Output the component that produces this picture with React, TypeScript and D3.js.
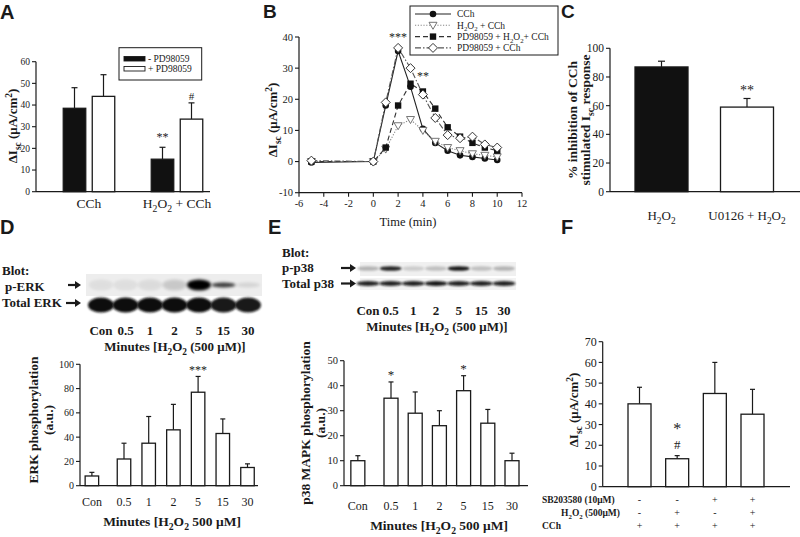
import React from "react";
import * as d3 from "d3";

const SERIF = "'Liberation Serif','Times New Roman',serif";
const SANS = "'Liberation Sans',Arial,sans-serif";
const INK = "#1a1a1a";

// ---------- Panel A
const aGroups = ["CCh", "H_{2}O_{2} + CCh"];
const aLegend = ["- PD98059", "+ PD98059"];
const aMinusPD = [38.5, 15];
const aMinusPDErr = [9.5, 5.5];
const aPlusPD = [44, 33.5];
const aPlusPDErr = [10, 7.5];
const aYTicks = [0, 10, 20, 30, 40, 50, 60];

// ---------- Panel B
const bTimes = [-5, 0, 1, 2, 3, 4, 5, 6, 7, 8, 9, 10];
const bCCh = [-0.3, 0, 18, 35.5, 24, 10.5, 6, 3.5, 2, 1.5, 1, 0.5];
const bH2O2CCh = [0, 0, 4, 11.5, 13.5, 10, 6.5, 4.5, 3.5, 2.5, 2, 1.5];
const bPDH2O2CCh = [0, 0, 4.5, 18, 25, 22.5, 17, 11, 8, 6, 4.5, 3.5];
const bPDCCh = [0.3, 0, 19, 36.5, 30, 21.5, 14, 8.5, 7.5, 8, 5.5, 4.5];
const bLegend = ["CCh", "H_{2}O_{2} + CCh", "PD98059 + H_{2}O_{2}+ CCh", "PD98059 + CCh"];
const bXTicks = [-6, -4, -2, 0, 2, 4, 6, 8, 10, 12];
const bYTicks = [-10, 0, 10, 20, 30, 40];

// ---------- Panel C
const cCats = ["H_{2}O_{2}", "U0126 + H_{2}O_{2}"];
const cValues = [87, 59];
const cErr = [4, 6];
const cYTicks = [0, 20, 40, 60, 80, 100];

// ---------- Panel D
const dCats = ["Con", "0.5", "1", "2", "5", "15", "30"];
const dValues = [8, 22, 35, 46, 77, 43, 15];
const dErr = [3, 13, 22, 21, 13, 12, 3];
const dYTicks = [0, 20, 40, 60, 80, 100];
const dPhosphoBand = [0.06, 0.06, 0.07, 0.15, 1.0, 0.75, 0.1];
const dTotalBand = [1, 1, 1, 1, 1, 0.95, 0.95];

// ---------- Panel E
const eCats = ["Con", "0.5", "1", "2", "5", "15", "30"];
const eValues = [10, 35, 29, 24, 38, 25, 10];
const eErr = [2, 6.5, 8.5, 6, 6, 5.5, 3];
const eYTicks = [0, 10, 20, 30, 40, 50];
const eP38Band = [0.25, 0.85, 0.15, 0.2, 0.9, 0.2, 0.25];
const eTotalBand = [0.9, 0.9, 0.9, 0.95, 0.9, 0.9, 0.9];

// ---------- Panel F
const fValues = [40, 13.5, 45, 35];
const fErr = [8, 1.5, 15, 12];
const fSB = ["-", "-", "+", "+"];
const fH2O2 = ["-", "+", "-", "+"];
const fCCh = ["+", "+", "+", "+"];
const fYTicks = [0, 10, 20, 30, 40, 50, 60, 70];

function Rich({ text, fontSize, ...props }: any) {
  const parts: { t: string; k: string }[] = [];
  const re = /([_^])\{([^}]*)\}/g;
  let last = 0;
  let m: RegExpExecArray | null;
  while ((m = re.exec(text))) {
    if (m.index > last) parts.push({ t: text.slice(last, m.index), k: "" });
    parts.push({ t: m[2], k: m[1] });
    last = re.lastIndex;
  }
  if (last < text.length) parts.push({ t: text.slice(last), k: "" });
  let cur = 0;
  return (
    <text {...props} fontSize={fontSize}>
      {parts.map((p, i) => {
        const target = p.k === "_" ? fontSize * 0.3 : p.k === "^" ? -fontSize * 0.38 : 0;
        const dy = target - cur;
        cur = target;
        return (
          <tspan key={i} dy={dy} fontSize={p.k ? fontSize * 0.72 : fontSize}>
            {p.t}
          </tspan>
        );
      })}
    </text>
  );
}

function YAxis({ scale, x, ticks, fontSize, bold = false }: any) {
  const [r0, r1] = scale.range();
  return (
    <g>
      <line x1={x} x2={x} y1={r0} y2={r1} stroke={INK} strokeWidth={1.2} />
      {ticks.map((t: number) => (
        <g key={t}>
          <line x1={x - 4} x2={x} y1={scale(t)} y2={scale(t)} stroke={INK} strokeWidth={1.1} />
          <text x={x - 6} y={scale(t)} dy="0.35em" textAnchor="end" fontSize={fontSize} fontWeight={bold ? "bold" : "normal"}>
            {t}
          </text>
        </g>
      ))}
    </g>
  );
}

function Bar({ cx, w, y0, y1, yErr, fill, capW = 6 }: any) {
  return (
    <g>
      <line x1={cx} x2={cx} y1={y1} y2={yErr} stroke={INK} strokeWidth={1.2} />
      <line x1={cx - capW / 2} x2={cx + capW / 2} y1={yErr} y2={yErr} stroke={INK} strokeWidth={1.2} />
      <rect x={cx - w / 2} y={y1} width={w} height={y0 - y1} fill={fill} stroke={INK} strokeWidth={1.3} />
    </g>
  );
}

function Arrow({ x1, x2, y }: any) {
  return (
    <g>
      <line x1={x1} x2={x2 - 4} y1={y} y2={y} stroke={INK} strokeWidth={2.2} />
      <path d={`M${x2},${y} L${x2 - 6},${y - 4} L${x2 - 6},${y + 4} Z`} fill={INK} />
    </g>
  );
}

function Marker({ kind, x, y }: any) {
  if (kind === "circle") return <circle cx={x} cy={y} r={3.3} fill="#111" />;
  if (kind === "square") return <rect x={x - 3.2} y={y - 3.2} width={6.4} height={6.4} fill="#111" />;
  if (kind === "tri")
    return <path d={`M${x - 4},${y - 3} L${x + 4},${y - 3} L${x},${y + 4} Z`} fill="#fff" stroke="#666" strokeWidth={0.9} />;
  return <path d={`M${x},${y - 4.5} L${x + 4.5},${y} L${x},${y + 4.5} L${x - 4.5},${y} Z`} fill="#fff" stroke="#333" strokeWidth={1} />;
}

function Stars({ x, y, n, size = 12 }: any) {
  return (
    <text x={x} y={y} textAnchor="middle" fontSize={size} fill={INK} fontFamily={SERIF}>
      {"*".repeat(n)}
    </text>
  );
}

function PanelA() {
  const y = d3.scaleLinear().domain([0, 60]).range([191.7, 61.7]);
  const x = d3.scalePoint<string>().domain(aGroups).range([89, 177]);
  const sub = d3.scalePoint<string>().domain(aLegend).range([-14.5, 14.5]);
  const w = 22.5;
  return (
    <g>
      <text x={0} y={19} fontFamily={SANS} fontWeight="bold" fontSize={20}>A</text>
      <YAxis scale={y} x={36} ticks={aYTicks} fontSize={9.5} />
      <line x1={36} x2={210} y1={y(0)} y2={y(0)} stroke={INK} strokeWidth={1.2} />
      {aGroups.map((g, i) => {
        const cx0 = x(g)! + sub(aLegend[0])!;
        const cx1 = x(g)! + sub(aLegend[1])!;
        return (
          <g key={g}>
            <Bar cx={cx0} w={w} y0={y(0)} y1={y(aMinusPD[i])} yErr={y(aMinusPD[i] + aMinusPDErr[i])} fill="#111" />
            <Bar cx={cx1} w={w} y0={y(0)} y1={y(aPlusPD[i])} yErr={y(aPlusPD[i] + aPlusPDErr[i])} fill="#fff" />
            <Rich text={g} x={x(g)} y={208} textAnchor="middle" fontSize={13.5} />
          </g>
        );
      })}
      <Stars x={x(aGroups[1])! + sub(aLegend[0])!} y={y(aMinusPD[1] + aMinusPDErr[1]) - 6} n={2} />
      <text x={x(aGroups[1])! + sub(aLegend[1])!} y={y(aPlusPD[1] + aPlusPDErr[1]) - 3} textAnchor="middle" fontSize={11}>#</text>
      <Rich text="ΔI_{sc} (μA/cm^{2})" transform="translate(17,126) rotate(-90)" textAnchor="middle" fontSize={13} fontWeight="bold" />
      <rect x={119} y={47.7} width={82.7} height={32.3} fill="#fff" stroke={INK} strokeWidth={1} />
      {aLegend.map((l, i) => (
        <g key={l}>
          <rect x={124} y={56.5 + i * 10} width={21} height={4.5} fill={i === 0 ? "#111" : "#fff"} stroke={INK} strokeWidth={0.9} />
          <text x={148} y={62 + i * 10} fontSize={9.5}>{l}</text>
        </g>
      ))}
    </g>
  );
}

function PanelB() {
  const x = d3.scaleLinear().domain([-6, 12]).range([299, 522]);
  const y = d3.scaleLinear().domain([-10, 40]).range([192.7, 37]);
  const series = [bCCh, bH2O2CCh, bPDH2O2CCh, bPDCCh];
  const styles = [
    { dash: "none", color: "#222", marker: "circle" },
    { dash: "1.2,1.6", color: "#888", marker: "tri" },
    { dash: "5,3", color: "#333", marker: "square" },
    { dash: "6,2,1.5,2", color: "#555", marker: "diamond" },
  ];
  const line = d3
    .line<number>()
    .x((_, i) => x(bTimes[i]))
    .y((d) => y(d));
  return (
    <g>
      <text x={263} y={18} fontFamily={SANS} fontWeight="bold" fontSize={19}>B</text>
      <YAxis scale={y} x={299} ticks={bYTicks} fontSize={10.5} />
      <line x1={299} x2={522} y1={y(-10)} y2={y(-10)} stroke={INK} strokeWidth={1.2} />
      {bXTicks.map((t) => (
        <g key={t}>
          <line x1={x(t)} x2={x(t)} y1={y(-10)} y2={y(-10) + 4} stroke={INK} strokeWidth={1.1} />
          <text x={x(t)} y={y(-10) + 14} textAnchor="middle" fontSize={10.5}>{t}</text>
        </g>
      ))}
      {series.map((s, k) => (
        <path key={k} d={line(s)!} fill="none" stroke={styles[k].color} strokeWidth={1.1} strokeDasharray={styles[k].dash} />
      ))}
      {series.map((s, k) => (
        <g key={k}>
          {s.map((v, i) => (
            <Marker key={i} kind={styles[k].marker} x={x(bTimes[i])} y={y(v)} />
          ))}
        </g>
      ))}
      <Stars x={x(2)} y={y(bPDCCh[3]) - 7} n={3} />
      <Stars x={x(4)} y={y(bPDCCh[5]) - 14.5} n={2} />
      <Rich text="ΔI_{sc} (μA/cm^{2})" transform="translate(277,120) rotate(-90)" textAnchor="middle" fontSize={13} fontWeight="bold" />
      <text x={408} y={226} textAnchor="middle" fontSize={12.5}>Time (min)</text>
      <rect x={410} y={6} width={148} height={49} fill="#fff" stroke={INK} strokeWidth={1} />
      {bLegend.map((l, k) => {
        const ly = 14 + k * 11.3;
        return (
          <g key={l}>
            <line x1={415} x2={451} y1={ly} y2={ly} stroke={styles[k].color} strokeWidth={1.1} strokeDasharray={styles[k].dash} />
            <Marker kind={styles[k].marker} x={433} y={ly} />
            <Rich text={l} x={457} y={ly + 3.3} fontSize={9.5} />
          </g>
        );
      })}
    </g>
  );
}

function PanelC() {
  const y = d3.scaleLinear().domain([0, 100]).range([191.7, 48.3]);
  const x = d3.scalePoint<string>().domain(cCats).range([661.5, 747]);
  return (
    <g>
      <text x={561} y={18} fontFamily={SANS} fontWeight="bold" fontSize={19}>C</text>
      <YAxis scale={y} x={610} ticks={cYTicks} fontSize={11.5} />
      <line x1={610} x2={800} y1={y(0)} y2={y(0)} stroke={INK} strokeWidth={1.2} />
      {cCats.map((c, i) => (
        <g key={c}>
          <Bar cx={x(c)} w={53} y0={y(0)} y1={y(cValues[i])} yErr={y(cValues[i] + cErr[i])} fill={i === 0 ? "#111" : "#fff"} capW={7} />
          <Rich text={c} x={x(c)} y={220} textAnchor="middle" fontSize={13} />
        </g>
      ))}
      <Stars x={x(cCats[1])} y={y(cValues[1] + cErr[1]) - 3} n={2} size={14} />
      <g transform="translate(577,120) rotate(-90)">
        <Rich text="% inhibition of CCh" x={0} y={0} textAnchor="middle" fontSize={13.5} fontWeight="bold" />
        <Rich text="stimulated I_{sc} response" x={0} y={13} textAnchor="middle" fontSize={13.5} fontWeight="bold" />
      </g>
    </g>
  );
}

function PanelD() {
  const y = d3.scaleLinear().domain([0, 100]).range([485.7, 364.3]);
  const xs = d3.scalePoint<string>().domain(dCats.slice(1)).range([124, 247.5]);
  const pos = (c: string, i: number) => (i === 0 ? xs(dCats[1])! - xs.step() * 1.3 : xs(c)!);
  const lanes = d3.scalePoint<string>().domain(dCats).range([101, 248]);
  return (
    <g>
      <text x={0} y={234} fontFamily={SANS} fontWeight="bold" fontSize={20}>D</text>
      <text x={2} y={275} fontSize={13} fontWeight="bold">Blot:</text>
      <text x={5} y={291} fontSize={13} fontWeight="bold">p-ERK</text>
      <text x={2} y={307} fontSize={13} fontWeight="bold">Total ERK</text>
      <Arrow x1={68} x2={81} y={285} />
      <Arrow x1={66} x2={81} y={303} />
      <rect x={86} y={274} width={176} height={22} fill="#ededed" />
      {dCats.map((c, i) => (
        <g key={c}>
          <ellipse cx={lanes(c)} cy={285} rx={12} ry={i >= 5 ? 2.5 : 5.5} fill="#000" opacity={dPhosphoBand[i]} filter="url(#blur2)" />
          <ellipse cx={lanes(c)} cy={305} rx={13} ry={7.5} fill="#111" opacity={dTotalBand[i]} filter="url(#blur1)" />
          <text x={lanes(c)} y={335} textAnchor="middle" fontSize={13} fontWeight="bold">{c}</text>
        </g>
      ))}
      <Rich text="Minutes    [H_{2}O_{2} (500 μM)]" x={175} y={351} textAnchor="middle" fontSize={13} fontWeight="bold" />
      <YAxis scale={y} x={80} ticks={dYTicks} fontSize={10} />
      <line x1={80} x2={258} y1={y(0)} y2={y(0)} stroke={INK} strokeWidth={1.2} />
      {dCats.map((c, i) => (
        <g key={c}>
          <Bar cx={pos(c, i)} w={13.5} y0={y(0)} y1={y(dValues[i])} yErr={y(dValues[i] + dErr[i])} fill="#fff" capW={5} />
          <text x={pos(c, i)} y={506} textAnchor="middle" fontSize={12}>{c}</text>
        </g>
      ))}
      <Stars x={pos(dCats[4], 4)} y={y(dValues[4] + dErr[4]) - 2} n={3} />
      <Rich text="Minutes  [H_{2}O_{2} 500 μM]" x={172} y={526} textAnchor="middle" fontSize={13.5} fontWeight="bold" />
      <g transform="translate(38,420) rotate(-90)">
        <text x={0} y={0} textAnchor="middle" fontSize={13.5} fontWeight="bold">ERK phosphorylation</text>
        <text x={0} y={15} textAnchor="middle" fontSize={13.5} fontWeight="bold">(a.u.)</text>
      </g>
    </g>
  );
}

function PanelE() {
  const y = d3.scaleLinear().domain([0, 50]).range([485.7, 360.7]);
  const xs = d3.scalePoint<string>().domain(eCats.slice(1)).range([391, 512]);
  const pos = (c: string, i: number) => (i === 0 ? xs(eCats[1])! - xs.step() * 1.37 : xs(c)!);
  const lanes = d3.scalePoint<string>().domain(eCats).range([368, 504]);
  return (
    <g>
      <text x={268} y={234} fontFamily={SANS} fontWeight="bold" fontSize={20}>E</text>
      <text x={282} y={257} fontSize={13} fontWeight="bold">Blot:</text>
      <text x={282} y={272} fontSize={13} fontWeight="bold">p-p38</text>
      <text x={282} y={288} fontSize={13} fontWeight="bold">Total p38</text>
      <Arrow x1={341} x2={356} y={268} />
      <Arrow x1={341} x2={356} y={283.5} />
      <rect x={360} y={262} width={156} height={14} fill="#f0f0f0" />
      <rect x={360} y={278} width={156} height={12} fill="#f3f3f3" />
      {eCats.map((c, i) => (
        <g key={c}>
          <ellipse cx={lanes(c)} cy={268.5} rx={11} ry={2.3} fill="#000" opacity={eP38Band[i]} filter="url(#blur1)" />
          <ellipse cx={lanes(c)} cy={283.5} rx={11.5} ry={2.6} fill="#111" opacity={eTotalBand[i]} filter="url(#blur1)" />
          <text x={lanes(c)} y={315} textAnchor="middle" fontSize={13} fontWeight="bold">{c}</text>
        </g>
      ))}
      <Rich text="Minutes  [H_{2}O_{2} (500 μM)]" x={437} y={331} textAnchor="middle" fontSize={13} fontWeight="bold" />
      <YAxis scale={y} x={344} ticks={eYTicks} fontSize={10.5} />
      <line x1={344} x2={528} y1={y(0)} y2={y(0)} stroke={INK} strokeWidth={1.2} />
      {eCats.map((c, i) => (
        <g key={c}>
          <Bar cx={pos(c, i)} w={14} y0={y(0)} y1={y(eValues[i])} yErr={y(eValues[i] + eErr[i])} fill="#fff" capW={5} />
          <text x={pos(c, i)} y={510} textAnchor="middle" fontSize={12}>{c}</text>
        </g>
      ))}
      {[1, 4].map((i) => (
        <Stars key={i} x={pos(eCats[i], i)} y={y(eValues[i] + eErr[i]) - 2.5} n={1} size={13} />
      ))}
      <Rich text="Minutes  [H_{2}O_{2} 500 μM]" x={439} y={530} textAnchor="middle" fontSize={13.5} fontWeight="bold" />
      <g transform="translate(310,423) rotate(-90)">
        <text x={0} y={0} textAnchor="middle" fontSize={13.5} fontWeight="bold">p38 MAPK phosphorylation</text>
        <text x={0} y={15} textAnchor="middle" fontSize={13.5} fontWeight="bold">(a.u.)</text>
      </g>
    </g>
  );
}

function PanelF() {
  const y = d3.scaleLinear().domain([0, 70]).range([486.7, 341.7]);
  const idx = fValues.map((_, i) => String(i));
  const x = d3.scalePoint<string>().domain(idx).range([639.5, 752.5]);
  const rows = [
    { label: "SB203580 (10μM)", signs: fSB, y: 503, anchor: "start", lx: 542 },
    { label: "H_{2}O_{2} (500μM)", signs: fH2O2, y: 516, anchor: "end", lx: 620 },
    { label: "CCh", signs: fCCh, y: 529, anchor: "start", lx: 542 },
  ];
  return (
    <g>
      <text x={561} y={234} fontFamily={SANS} fontWeight="bold" fontSize={20}>F</text>
      <YAxis scale={y} x={602.7} ticks={fYTicks} fontSize={12} />
      <line x1={602.7} x2={790} y1={y(0)} y2={y(0)} stroke={INK} strokeWidth={1.2} />
      {fValues.map((v, i) => (
        <Bar key={i} cx={x(String(i))} w={23} y0={y(0)} y1={y(v)} yErr={y(v + fErr[i])} fill="#fff" capW={5} />
      ))}
      <Stars x={x("1")} y={434} n={1} size={16} />
      <text x={x("1")} y={449} textAnchor="middle" fontSize={13}>#</text>
      <Rich text="ΔI_{sc} (μA/cm^{2})" transform="translate(578,410) rotate(-90)" textAnchor="middle" fontSize={13} fontWeight="bold" />
      {rows.map((r) => (
        <g key={r.label}>
          <Rich text={r.label} x={r.lx} y={r.y} textAnchor={r.anchor} fontSize={9.5} fontWeight="bold" />
          {r.signs.map((s, i) => (
            <text key={i} x={x(String(i))} y={r.y} textAnchor="middle" fontSize={10}>{s}</text>
          ))}
        </g>
      ))}
    </g>
  );
}

export default function App() {
  return (
    <svg
      width={800}
      height={537}
      viewBox="0 0 800 537"
      style={{ position: "absolute", left: 0, top: 0, background: "#fff" }}
      fontFamily={SERIF}
      fill={INK}
    >
      <defs>
        <filter id="blur1" x="-30%" y="-100%" width="160%" height="300%">
          <feGaussianBlur stdDeviation={1} />
        </filter>
        <filter id="blur2" x="-30%" y="-100%" width="160%" height="300%">
          <feGaussianBlur stdDeviation={1.6} />
        </filter>
      </defs>
      <rect x={0} y={0} width={800} height={537} fill="#fff" />
      <PanelA />
      <PanelB />
      <PanelC />
      <PanelD />
      <PanelE />
      <PanelF />
    </svg>
  );
}
